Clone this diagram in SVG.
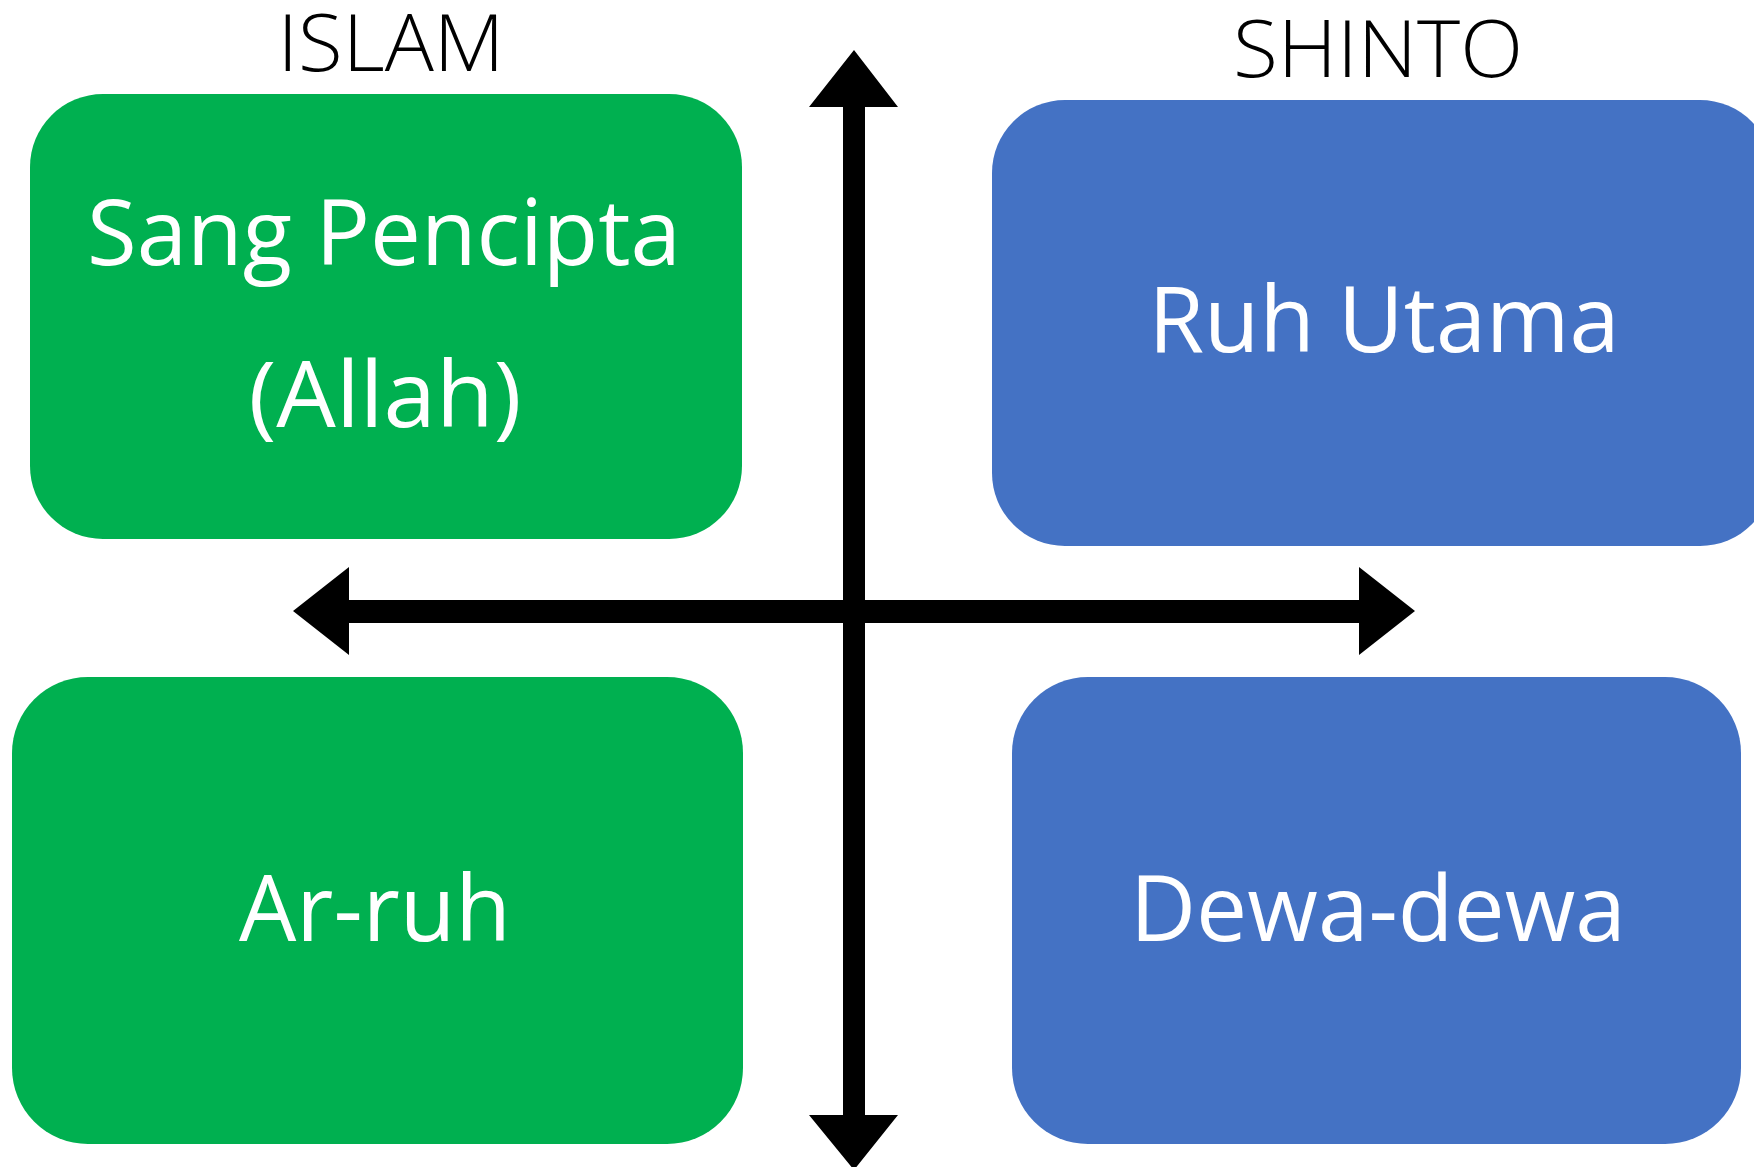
<svg xmlns="http://www.w3.org/2000/svg" width="1754" height="1167" viewBox="0 0 1754 1167">
<style>
.box-g{fill:#00B050}
.box-b{fill:#4472C4}
.lbl{font-family:"Open Sans","Noto Sans","Liberation Sans",sans-serif;fill:#fff;font-size:92px;text-anchor:middle}
.hdr{font-family:"Open Sans","Noto Sans","Liberation Sans",sans-serif;fill:#000;font-size:80px;font-weight:300;text-anchor:middle}
.arr{fill:#000}
</style>
<rect width="1754" height="1167" fill="#fff"/>
<text class="hdr" x="391" y="71" textLength="227" lengthAdjust="spacingAndGlyphs">ISLAM</text>
<text class="hdr" x="1378" y="77" textLength="290" lengthAdjust="spacingAndGlyphs">SHINTO</text>
<g id="node-sang-pencipta">
<rect class="box-g" x="30" y="94" width="712" height="445" rx="73" ry="73"/>
<text class="lbl" x="384" y="265" textLength="594" lengthAdjust="spacingAndGlyphs">Sang Pencipta</text>
<text class="lbl" x="385" y="427" textLength="273" lengthAdjust="spacingAndGlyphs">(Allah)</text>
</g>
<g id="node-ruh-utama">
<rect class="box-b" x="992" y="100" width="781" height="446" rx="73" ry="73"/>
<text class="lbl" x="1384" y="352" textLength="471" lengthAdjust="spacingAndGlyphs">Ruh Utama</text>
</g>
<g id="node-ar-ruh">
<rect class="box-g" x="12" y="677" width="731" height="467" rx="76" ry="76"/>
<text class="lbl" x="375" y="941" textLength="272" lengthAdjust="spacingAndGlyphs">Ar-ruh</text>
</g>
<g id="node-dewa-dewa">
<rect class="box-b" x="1012" y="677" width="729" height="467" rx="76" ry="76"/>
<text class="lbl" x="1378" y="941" textLength="496" lengthAdjust="spacingAndGlyphs">Dewa-dewa</text>
</g>
<g id="connectors">
<polygon class="arr" points="854,50 898,107 865,107 865,1115 898,1115 854,1170 809,1115 843,1115 843,107 809,107"/>
<polygon class="arr" points="293,611 349,567 349,600 1359,600 1359,567 1415,611 1359,655 1359,623 349,623 349,655"/>
</g>
</svg>
